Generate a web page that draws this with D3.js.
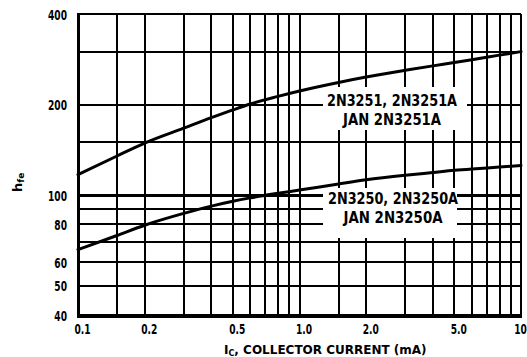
<!DOCTYPE html>
<html>
<head>
<meta charset="utf-8">
<script src="https://cdn.jsdelivr.net/npm/d3@7"></script>
<style>
  html, body { margin: 0; padding: 0; background: #fff; }
  svg { display: block; }
  text { font-family: "Liberation Sans Narrow", "DejaVu Sans", "Liberation Sans", sans-serif; font-weight: bold; fill: #000; }
</style>
</head>
<body>
<script>
// Collector current (mA) sample points and small-signal current gain curves
const collectorCurrent = [0.1, 0.15, 0.2, 0.3, 0.4, 0.5, 0.6, 0.8, 1.0, 1.5, 2, 3, 4, 5, 6, 8, 10];
const hfe2N3251 = [117, 135, 149, 167, 181, 192, 201, 213, 222, 237, 247, 260, 269, 276, 282, 292, 300];
const hfe2N3250 = [66, 73.5, 79.5, 87, 92, 95.5, 98, 101.5, 104, 109, 112.5, 116.5, 119, 121, 122.3, 124, 125.5];

const seriesLabels = [
  ["2N3251, 2N3251A", "JAN 2N3251A"],
  ["2N3250, 2N3250A", "JAN 2N3250A"]
];

// Axis ticks and grid
const xTickValues = [0.1, 0.2, 0.5, 1.0, 2.0, 5.0, 10];
const xTickLabels = ["0.1", "0.2", "0.5", "1.0", "2.0", "5.0", "10"];
const yTickValues = [40, 50, 60, 80, 100, 200, 400];
const yTickLabels = ["40", "50", "60", "80", "100", "200", "400"];
const xGrid = [0.15, 0.2, 0.3, 0.4, 0.5, 0.6, 0.7, 0.8, 0.9, 1.0, 1.5, 2, 3, 4, 5, 6, 7, 8, 9];
const yGrid = [50, 60, 70, 80, 90, 100, 150, 200, 300];

const W = 527, H = 357;
const plotLeft = 78, plotRight = 521, plotTop = 14, plotBottom = 315;
const narrow = 0.65; // horizontal squeeze for the condensed tick numerals

const svg = d3.select("body").append("svg").attr("width", W).attr("height", H);

const x = d3.scaleLog().domain([0.1, 10]).range([plotLeft, plotRight]);
const y = d3.scaleLog().domain([40, 400]).range([plotBottom, plotTop]);

// grid
const grid = svg.append("g").attr("stroke", "#000").attr("shape-rendering", "crispEdges");
grid.selectAll("line.v").data(xGrid).join("line")
  .attr("class", "v")
  .attr("x1", d => x(d)).attr("x2", d => x(d))
  .attr("y1", plotTop).attr("y2", plotBottom)
  .attr("stroke-width", 2);
grid.selectAll("line.h").data(yGrid).join("line")
  .attr("class", "h")
  .attr("x1", plotLeft).attr("x2", plotRight)
  .attr("y1", d => y(d)).attr("y2", d => y(d))
  .attr("stroke-width", d => d === 100 ? 2.6 : 2);

// white boxes behind the series labels
const boxes = [
  { x0: 323, x1: 467, y0: 87, y1: 130 },
  { x0: 323, x1: 457, y0: 188, y1: 238 }
];
svg.append("g").selectAll("rect").data(boxes).join("rect")
  .attr("x", d => d.x0).attr("y", d => d.y0)
  .attr("width", d => d.x1 - d.x0).attr("height", d => d.y1 - d.y0)
  .attr("fill", "#fff");

// frame
const frame = svg.append("g").attr("stroke", "#000").attr("shape-rendering", "crispEdges");
frame.append("line").attr("x1", plotLeft).attr("x2", plotRight).attr("y1", plotTop).attr("y2", plotTop).attr("stroke-width", 2);
frame.append("line").attr("x1", plotRight).attr("x2", plotRight).attr("y1", plotTop).attr("y2", plotBottom).attr("stroke-width", 2);
frame.append("line").attr("x1", plotLeft).attr("x2", plotLeft).attr("y1", plotTop - 1).attr("y2", plotBottom + 2).attr("stroke-width", 3);
frame.append("line").attr("x1", plotLeft - 1).attr("x2", plotRight + 1).attr("y1", plotBottom + 1).attr("y2", plotBottom + 1).attr("stroke-width", 4);

// curves
const line = d3.line()
  .x((d, i) => x(collectorCurrent[i]))
  .y(d => y(d))
  .curve(d3.curveMonotoneX);
svg.append("g").selectAll("path").data([hfe2N3251, hfe2N3250]).join("path")
  .attr("d", line)
  .attr("fill", "none")
  .attr("stroke", "#000")
  .attr("stroke-width", 3)
  .attr("stroke-linecap", "round");

// series labels
const labelPos = [
  { cx: 392, y1: 106, y2: 125, w1: 130, w2: 98 },
  { cx: 393, y1: 204, y2: 223, w1: 130, w2: 99 }
];
seriesLabels.forEach((lines, i) => {
  const p = labelPos[i];
  [[lines[0], p.y1, p.w1], [lines[1], p.y2, p.w2]].forEach(([t, yy, w]) => {
    svg.append("text")
      .attr("x", p.cx - w / 2).attr("y", yy)
      .attr("font-size", 16)
      .attr("textLength", w)
      .attr("lengthAdjust", "spacingAndGlyphs")
      .text(t);
  });
});

// y axis tick labels
const yAxis = d3.axisLeft(y).tickValues(yTickValues)
  .tickFormat((d, i) => yTickLabels[i]).tickSize(0).tickPadding(0);
const gy = svg.append("g").attr("transform", "translate(67,0)").call(yAxis);
gy.select(".domain").remove();
gy.selectAll("text")
  .attr("font-size", 14)
  .attr("font-family", null)
  .attr("text-anchor", "end")
  .attr("dy", "0.36em")
  .attr("x", 0)
  .attr("transform", `scale(${narrow},1)`);

// x axis tick labels
const xAxis = d3.axisBottom(x).tickValues(xTickValues)
  .tickFormat((d, i) => xTickLabels[i]).tickSize(0).tickPadding(0);
const gx = svg.append("g").attr("transform", `translate(0,${plotBottom + 9})`).call(xAxis);
gx.select(".domain").remove();
gx.selectAll("text")
  .attr("font-size", 14)
  .attr("font-family", null)
  .attr("text-anchor", "middle")
  .attr("dy", "0.72em")
  .attr("transform", `scale(${narrow},1)`)
  .attr("x", (d, i) => (i === xTickLabels.length - 1 ? -1 : 4) / narrow);

// y axis title: h_fe, rotated
const yt = svg.append("text")
  .attr("transform", "translate(22,192) rotate(-90)")
  .attr("font-size", 13);
yt.append("tspan").text("h");
yt.append("tspan").attr("font-size", 9).attr("dy", 2).text("fe");

// x axis title
const xt = svg.append("text")
  .attr("x", 224).attr("y", 354)
  .attr("font-size", 12);
xt.append("tspan").text("I");
xt.append("tspan").attr("font-size", 8).attr("dy", 2).text("C");
xt.append("tspan").attr("dy", -2).text(", COLLECTOR CURRENT (mA)");
</script>
</body>
</html>
